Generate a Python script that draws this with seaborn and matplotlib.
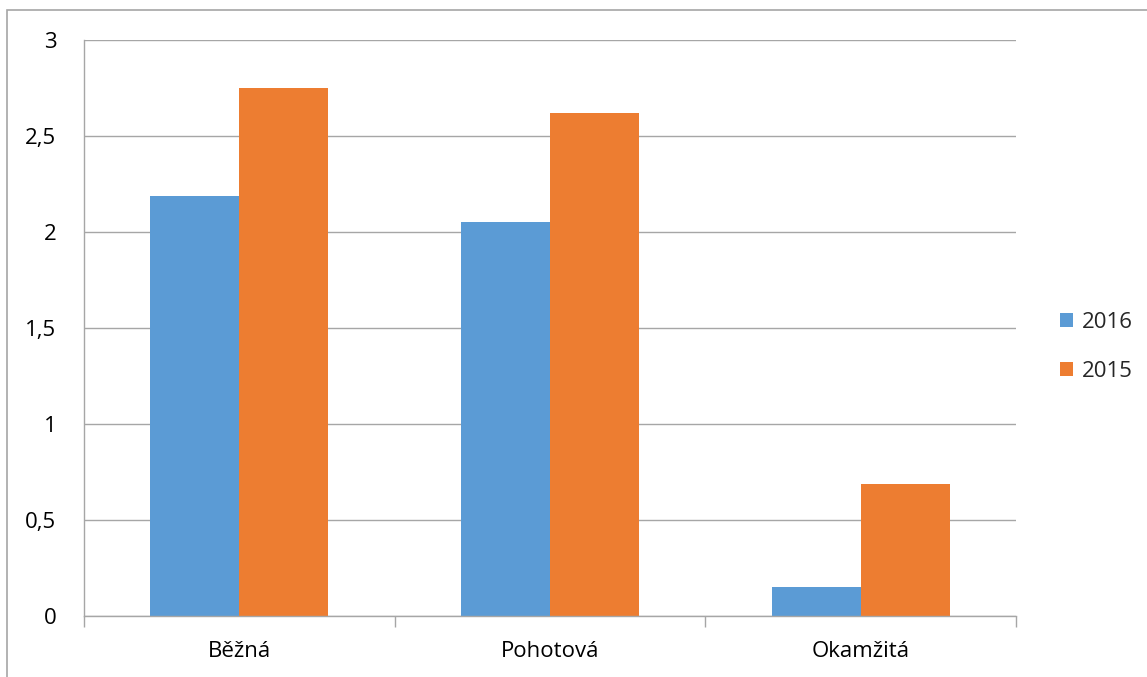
import matplotlib
matplotlib.use("Agg")
import matplotlib.pyplot as plt
import matplotlib.patches as mpatches
import seaborn as sns
import pandas as pd

categories = ["Běžná", "Pohotová", "Okamžitá"]
series_names = ["2016", "2015"]
values_2016 = [2.19, 2.05, 0.15]
values_2015 = [2.75, 2.62, 0.69]
y_ticks = [0, 0.5, 1, 1.5, 2, 2.5, 3]
y_tick_labels = ["0", "0,5", "1", "1,5", "2", "2,5", "3"]
colors = ["#5B9BD5", "#ED7D31"]

df = pd.DataFrame({
    "kategorie": categories * 2,
    "hodnota": values_2016 + values_2015,
    "rok": [series_names[0]] * 3 + [series_names[1]] * 3,
})

sns.set_theme(style="white")
plt.rcParams["font.family"] = ["Open Sans", "DejaVu Sans"]

fig = plt.figure(figsize=(11.47, 6.77), dpi=100)
ax = fig.add_axes([84 / 1147, 1 - 616 / 677, (1016 - 84) / 1147, (616 - 40) / 677])

sns.barplot(data=df, x="kategorie", y="hodnota", hue="rok", hue_order=series_names,
            palette=colors, width=0.573, saturation=1, ax=ax, legend=True,
            edgecolor="none", linewidth=0)

grid_c = "#a6a6a6"
fs = 16
ax.set_xlim(-0.5, 2.5)
ax.set_ylim(0, 3)
ax.set_yticks(y_ticks)
ax.set_yticklabels(y_tick_labels, fontsize=fs, color="#000000")
ax.yaxis.grid(True, color=grid_c, linewidth=1)
ax.set_axisbelow(True)
ax.tick_params(axis="y", length=8, width=1, color=grid_c, direction="out", pad=12)

ax.set_xticks([0, 1, 2])
ax.set_xticklabels(categories, fontsize=fs, color="#000000")
ax.set_xticks([-0.5, 0.5, 1.5, 2.5], minor=True)
ax.tick_params(axis="x", which="major", length=0, pad=18)
ax.tick_params(axis="x", which="minor", length=8, width=1, color=grid_c, direction="out", bottom=True)

ax.set_xlabel("")
ax.set_ylabel("")
for s in ["top", "right"]:
    ax.spines[s].set_visible(False)
for s in ["left", "bottom"]:
    ax.spines[s].set_color(grid_c)
    ax.spines[s].set_linewidth(1)

ax.legend(loc="center left", bbox_to_anchor=(1040 / 1147, 1 - 347 / 677),
          bbox_transform=fig.transFigure, frameon=False, fontsize=fs,
          handlelength=0.6, handleheight=0.6, handletextpad=0.4, labelspacing=1.25)

# chart frame (left and top edges visible)
fig.patches.append(mpatches.Rectangle((7 / 1147, -0.1), 1.2, 1.1 - 10 / 677,
                                      transform=fig.transFigure, fill=False,
                                      edgecolor="#a6a6a6", linewidth=1.2))

fig.savefig("out.png", dpi=100, facecolor="white")
